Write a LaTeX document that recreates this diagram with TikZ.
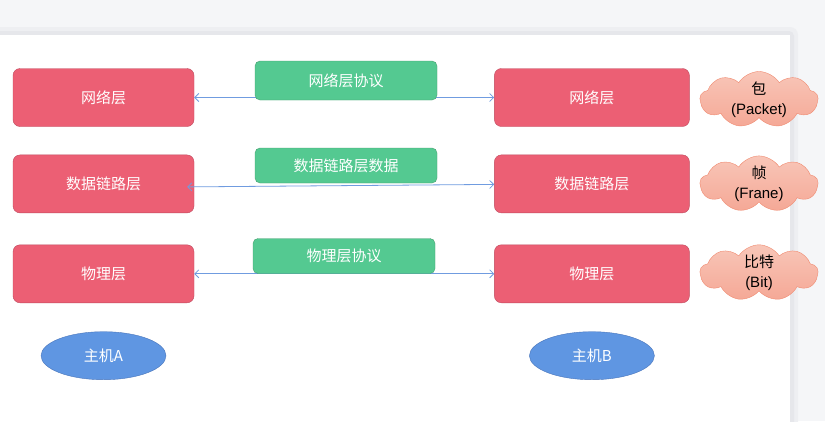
\documentclass[tikz,border=0pt]{standalone}
\usepackage{fontspec}
\setmainfont{Noto Sans CJK SC}
\newfontfamily\latinfont{Liberation Sans}
\usepackage{tikz}
\usetikzlibrary{arrows.meta, positioning, shapes.geometric, shapes.symbols}
\definecolor{layerred}{RGB}{236,95,116}
\definecolor{layeredge}{RGB}{190,74,94}
\definecolor{protogreen}{RGB}{84,201,145}
\definecolor{protoedge}{RGB}{72,160,112}
\definecolor{hostblue}{RGB}{95,150,226}
\definecolor{hostedge}{RGB}{72,116,186}
\definecolor{cloudtop}{RGB}{248,198,184}
\definecolor{cloudbottom}{RGB}{245,168,150}
\definecolor{cloudedge}{RGB}{240,138,112}
\definecolor{lineblue}{RGB}{112,156,224}
\definecolor{pagegray}{RGB}{245,246,248}
\definecolor{shadowlight}{RGB}{238,239,242}
\definecolor{shadowgray}{RGB}{230,231,235}

\begin{document}
\begin{tikzpicture}[
                        x=1pt, y=-1pt,
                        font=\fontsize{15}{18}\selectfont,
                        node distance=28pt and 300pt
                    ]
                    \tikzset{
                        layerbox/.style = {draw=layeredge, fill=layerred, text=white, rounded corners=7pt, minimum height=58pt},
                        protobox/.style = {draw=protoedge, fill=protogreen, text=white, rounded corners=5pt, minimum width=182pt},
                        hostnode/.style = {ellipse, draw=hostedge, fill=hostblue, text=white, minimum width=125pt, minimum height=48pt},
                        unitcloud/.style = {cloud, cloud puffs=9, cloud puff arc=115, aspect=2.05, draw=cloudedge, top color=cloudtop, bottom color=cloudbottom, minimum width=118pt, minimum height=56pt, inner sep=0pt},
                        unittext/.style = {align=center, font=\fontsize{15}{20}\selectfont, inner sep=0pt},
                        peerline/.style = {draw=lineblue, line width=0.8pt, {Straight Barb[length=4pt,width=8pt]}-{Straight Barb[length=4pt,width=8pt]}}
                    }
                    \useasboundingbox (0,0) rectangle (825,421);
                    \clip (0,0) rectangle (825,421);

                    % Page
                    \fill[pagegray] (0,0) rectangle (825,421);
                    \fill[shadowlight, rounded corners=8pt] (-8,27) rectangle (798,430);
                    \fill[shadowgray, rounded corners=5pt] (-8,31) rectangle (794,430);
                    \fill[white] (0,35) rectangle (790,430);

                    % Host A (left column)
                    \node[layerbox, minimum width=181pt] (netA) at (103.5,97.5) {网络层};
                    \node[layerbox, minimum width=181pt, below=28pt of netA] (linkA) {数据链路层};
                    \node[layerbox, minimum width=181pt, below=31.5pt of linkA] (phyA) {物理层};
                    \node[hostnode, below=28.5pt of phyA] (hostA) {主机A};

                    % Host B (right column)
                    \node[layerbox, minimum width=195pt, right=of netA] (netB) {网络层};
                    \node[layerbox, minimum width=195pt, below=28pt of netB] (linkB) {数据链路层};
                    \node[layerbox, minimum width=195pt, below=31.5pt of linkB] (phyB) {物理层};
                    \node[hostnode, below=28.5pt of phyB] (hostB) {主机B};

                    % Data units
                    \node[unitcloud, right=10pt of netB, yshift=-2pt] (packet) {};
                    \node[unitcloud, right=10pt of linkB] (frame) {};
                    \node[unitcloud, right=10pt of phyB, yshift=1pt] (bit) {};
                    \node[unittext] (packetText) at (packet) {包\\{\latinfont(Packet)}};
                    \node[unittext] (frameText) at (frame) {帧\\{\latinfont(Frane)}};
                    \node[unittext] (bitText) at (bit) {比特\\{\latinfont(Bit)}};

                    % Peer connections
                    \draw[peerline] (netA.east) -- (netB.west);
                    \draw[peerline] ([xshift=-7pt,yshift=-3pt]linkA.east) -- ([yshift=-0.5pt]linkB.west);
                    \draw[peerline] (phyA.east) -- (phyB.west);

                    % Protocols
                    \node[protobox, minimum height=39pt] (netP) at (346,80.5) {网络层协议};
                    \node[protobox, minimum height=35pt] (linkP) at (346,165.5) {数据链路层数据};
                    \node[protobox, minimum height=35pt] (phyP) at (344,256) {物理层协议};

                \end{tikzpicture}
\end{document}
